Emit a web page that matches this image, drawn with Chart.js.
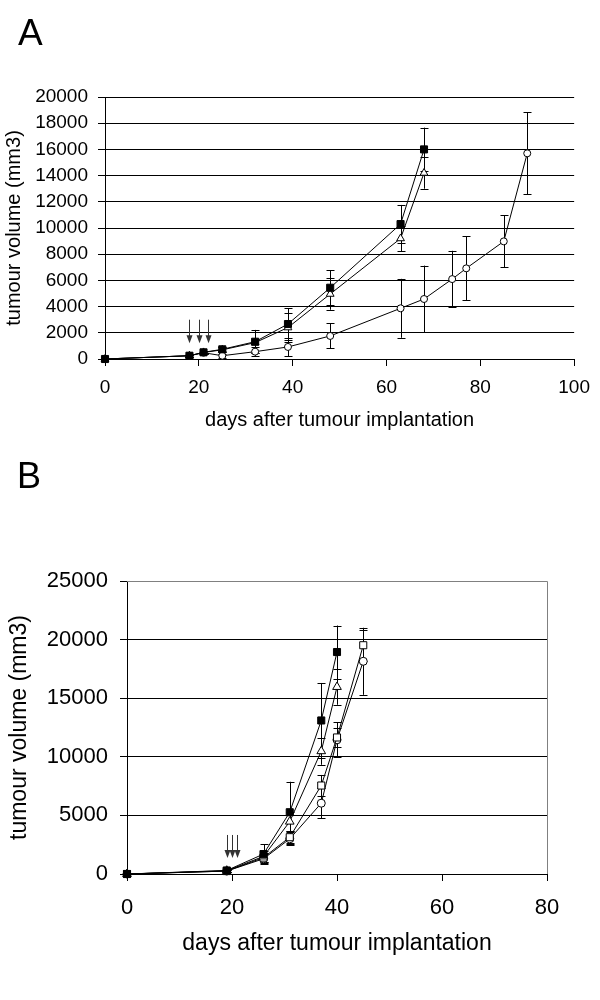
<!DOCTYPE html>
<html>
<head>
<meta charset="utf-8">
<script src="https://cdn.jsdelivr.net/npm/chart.js@4/dist/chart.umd.min.js"></script>
<style>
  body { margin: 0; background: #fff; }
  canvas { display: block; }
</style>
</head>
<body>
<canvas id="chart-a" width="600" height="440"></canvas>
<canvas id="chart-b" width="600" height="560"></canvas>
<script>
// ---- panel A data ----
var daysA = [0, 18, 21, 25, 32, 39, 48, 63, 68];
var filledSquareA = [0, 250, 510, 740, 1320, 2670, 5440, 10300, 16000];
var filledSquareErrA = [0, 80, 100, 200, 900, 1200, 1350, 1460, 1660];
var triangleA = [0, 250, 500, 700, 1250, 2400, 4960, 9200, 14200];
var triangleErrA = [0, 80, 100, 200, 800, 1100, 1200, 960, 1200];
var daysCircleA = [0, 18, 21, 25, 32, 39, 48, 63, 68, 74, 77, 85, 90];
var circleA = [0, 250, 480, 250, 560, 920, 1760, 3870, 4580, 6100, 6920, 8980, 15700];
var circleErrA = [0, 80, 100, 150, 350, 700, 950, 2250, 2550, 2160, 2450, 1980, 3130];
var arrowDaysA = [18, 20, 22];
var arrowFromA = 3000, arrowToA = 1200;

// ---- panel B data ----
var daysB = [0, 19, 26, 31, 37, 40];
var daysLongB = [0, 19, 26, 31, 37, 40, 45];
var filledSquareB = [0, 300, 1700, 5270, 13100, 18940];
var filledSquareErrB = [0, 100, 850, 2600, 3200, 2260];
var triangleB = [0, 280, 1500, 4470, 10480, 15960];
var triangleErrB = [0, 100, 500, 800, 1160, 1520];
var openSquareB = [0, 250, 1400, 3140, 7550, 11650, 19520];
var openSquareErrB = [0, 100, 400, 550, 900, 850, 1340];
var circleB = [0, 250, 1300, 3000, 6040, 11450, 18150];
var circleErrB = [0, 100, 400, 550, 1280, 1480, 2860];
var arrowDaysB = [19, 20, 21];
var arrowFromB = 3330, arrowToB = 1370;

var FONT = "'Liberation Sans', Arial, sans-serif";

function pts(xs, ys) {
  return xs.map(function (x, i) { return { x: x, y: ys[i] }; });
}

function series(xs, ys, errs, style, filled, radius) {
  return {
    data: pts(xs, ys),
    errors: errs,
    borderColor: '#000',
    borderWidth: 1,
    pointStyle: style,
    pointRadius: radius,
    pointBorderWidth: 1,
    pointBorderColor: '#000',
    pointBackgroundColor: filled ? '#000' : '#fff',
    tension: 0,
    clip: false
  };
}

// error bars + arrows + panel letter, all placed through the chart scales
var extras = {
  id: 'extras',
  beforeDatasetsDraw: function (chart) {
    var c = chart.ctx, xs = chart.scales.x, ys = chart.scales.y;
    var o = chart.options.plugins.extras;
    c.save();
    c.strokeStyle = '#000';
    c.lineWidth = 1;
    chart.data.datasets.forEach(function (ds) {
      ds.data.forEach(function (p, i) {
        var e = ds.errors[i];
        if (!e) return;
        var px = Math.round(xs.getPixelForValue(p.x)) + 0.5;
        var top = ys.getPixelForValue(p.y + e);
        var bot = ys.getPixelForValue(Math.max(0, p.y - e));
        c.beginPath();
        c.moveTo(px, top); c.lineTo(px, bot);
        c.moveTo(px - 4, Math.round(top) + 0.5); c.lineTo(px + 4, Math.round(top) + 0.5);
        c.moveTo(px - 4, Math.round(bot) + 0.5); c.lineTo(px + 4, Math.round(bot) + 0.5);
        c.stroke();
      });
    });
    // arrows
    c.strokeStyle = '#333';
    c.fillStyle = '#333';
    o.arrowDays.forEach(function (d) {
      var px = Math.round(xs.getPixelForValue(d)) + 0.5;
      var y0 = ys.getPixelForValue(o.arrowFrom);
      var y1 = ys.getPixelForValue(o.arrowTo);
      c.beginPath();
      c.moveTo(px, y0); c.lineTo(px, y1 - 6);
      c.stroke();
      c.beginPath();
      c.moveTo(px - 3, y1 - 8); c.lineTo(px + 3, y1 - 8); c.lineTo(px, y1);
      c.closePath();
      c.fill();
    });
    if (o.box) {
      var a = chart.chartArea;
      c.strokeStyle = '#808080';
      c.beginPath();
      c.moveTo(a.left, Math.round(a.top) + 0.5);
      c.lineTo(Math.round(a.right) + 0.5, Math.round(a.top) + 0.5);
      c.lineTo(Math.round(a.right) + 0.5, a.bottom);
      c.stroke();
    }
    c.restore();
  },
  afterDraw: function (chart) {
    var o = chart.options.plugins.extras;
    var c = chart.ctx;
    c.save();
    c.fillStyle = '#000';
    c.font = o.letterSize + 'px ' + FONT;
    c.textBaseline = 'alphabetic';
    c.fillText(o.letter, o.letterX, o.letterY);
    c.restore();
  }
};

function plain(v) { return String(v); }

function makeOptions(cfg) {
  return {
    responsive: false,
    animation: false,
    devicePixelRatio: 1,
    layout: { padding: { left: 0, top: cfg.top, right: cfg.right, bottom: 0 } },
    plugins: {
      legend: { display: false },
      tooltip: { enabled: false },
      extras: cfg.extras
    },
    scales: {
      x: {
        type: 'linear',
        min: 0, max: cfg.xMax,
        afterFit: function (s) { s.height = cfg.xHeight; },
        ticks: { stepSize: 20, color: '#000', padding: cfg.xTickPad, callback: plain,
                 font: { family: FONT, size: cfg.tickSize } },
        grid: { drawOnChartArea: false, drawTicks: true, tickLength: 7, color: '#000' },
        border: { color: '#000', width: 1 },
        title: {
          display: true, text: 'days after tumour implantation', color: '#000',
          font: { family: FONT, size: cfg.titleSize }, padding: { top: 0, bottom: cfg.xTitlePad }
        }
      },
      y: {
        min: 0, max: cfg.yMax,
        afterFit: function (s) { s.width = cfg.yWidth; },
        ticks: { stepSize: cfg.yStep, color: '#000', padding: cfg.yTickPad, callback: plain,
                 font: { family: FONT, size: cfg.tickSize } },
        grid: {
          color: function (ctx) { return (cfg.extras.box && ctx.tick && ctx.tick.value === cfg.yMax) ? '#808080' : '#000'; },
          tickColor: '#000',
          tickLength: 7
        },
        border: { color: '#000', width: 1 },
        title: {
          display: true, text: 'tumour volume (mm3)', color: '#000',
          font: { family: FONT, size: cfg.titleSize }, padding: { top: cfg.yTitlePad, bottom: 0 }
        }
      }
    }
  };
}

// first dataset is drawn on top
new Chart(document.getElementById('chart-a'), {
  type: 'line',
  data: {
    datasets: [
      series(daysA, filledSquareA, filledSquareErrA, 'rect', true, 5),
      series(daysA, triangleA, triangleErrA, 'triangle', false, 4.5),
      series(daysCircleA, circleA, circleErrA, 'circle', false, 3.5)
    ]
  },
  options: makeOptions({
    top: 97, right: 25, xHeight: 81, yWidth: 105,
    xMax: 100, yMax: 20000, yStep: 2000,
    tickSize: 19, titleSize: 20,
    xTickPad: 10, yTickPad: 10, xTitlePad: 8, yTitlePad: 2,
    extras: { arrowDays: arrowDaysA, arrowFrom: arrowFromA, arrowTo: arrowToA, box: false,
              letter: 'A', letterSize: 37, letterX: 18, letterY: 45 }
  }),
  plugins: [extras]
});

new Chart(document.getElementById('chart-b'), {
  type: 'line',
  data: {
    datasets: [
      series(daysB, filledSquareB, filledSquareErrB, 'rect', true, 5),
      series(daysB, triangleB, triangleErrB, 'triangle', false, 5),
      series(daysLongB, openSquareB, openSquareErrB, 'rect', false, 5),
      series(daysLongB, circleB, circleErrB, 'circle', false, 4)
    ]
  },
  options: makeOptions({
    top: 141, right: 53, xHeight: 126, yWidth: 127,
    xMax: 80, yMax: 25000, yStep: 5000,
    tickSize: 22, titleSize: 23,
    xTickPad: 14, yTickPad: 12, xTitlePad: 43, yTitlePad: 6,
    extras: { arrowDays: arrowDaysB, arrowFrom: arrowFromB, arrowTo: arrowToB, box: true,
              letter: 'B', letterSize: 36, letterX: 17, letterY: 48 }
  }),
  plugins: [extras]
});
</script>
</body>
</html>
